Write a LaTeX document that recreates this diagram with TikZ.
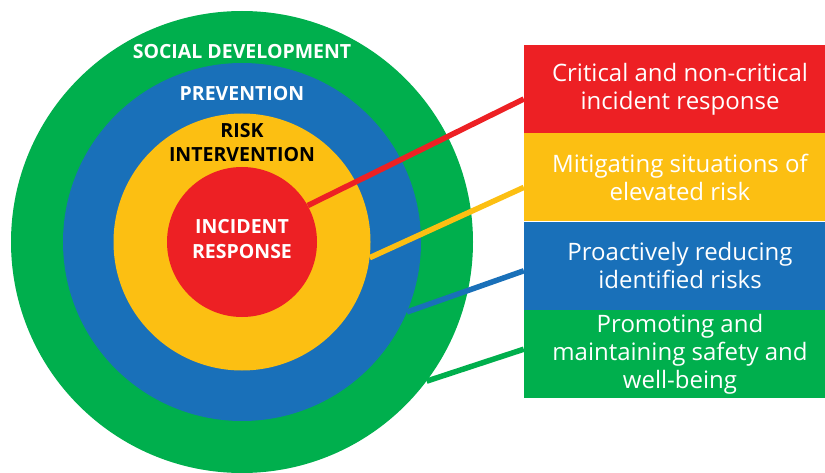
\documentclass[tikz,border=0pt]{standalone}
\usepackage{fontspec}
\setmainfont{Open Sans}
\usepackage{tikz}
\usetikzlibrary{positioning}
\definecolor{sred}{HTML}{ED2024}
\definecolor{syellow}{HTML}{FCBF12}
\definecolor{sblue}{HTML}{1970B9}
\definecolor{sgreen}{HTML}{00AF4D}
\begin{document}
\begin{tikzpicture}[x=1pt,y=1pt,
        ring/.style={circle,inner sep=0pt,minimum size=#1},
        ringtext/.style={anchor=base,align=center,font=\bfseries\fontsize{19.5}{24}\selectfont},
        levelbox/.style={rectangle,inner sep=0pt,minimum width=312pt,minimum height=88pt,
          text=white,align=center,font=\fontsize{24}{28}\selectfont},
        link/.style={line width=5.5pt}]
        \useasboundingbox (0,0) rectangle (825,472);
        % the four rings
        \node[ring=462pt,fill=sgreen] (social) at (242,230) {};
        \node[ring=358pt,fill=sblue] (prevent) at (242,230) {};
        \node[ring=257pt,fill=syellow] (risk) at (242,230) {};
        \node[ring=150pt,fill=sred] (incident) at (242,230) {};
        \node[ringtext,text=white] (incidentlab) at ([yshift=-16pt]incident.center) {INCIDENT\\RESPONSE};
        \node[ringtext,text=white] (sociallab) at ([yshift=-48pt]social.north) {SOCIAL DEVELOPMENT};
        \node[ringtext,text=white] (preventlab) at ([yshift=-38pt]prevent.north) {PREVENTION};
        \node[ringtext,text=black] (risklab) at ([yshift=-48.5pt]risk.north) {RISK\\INTERVENTION};
        % the boxes on the right
        \node[levelbox,fill=sred] (critical) at (680,383) {Critical and non-critical\\incident response};
        \node[levelbox,fill=syellow,below=0pt of critical] (mitigate) {Mitigating situations of\\elevated risk};
        \node[levelbox,fill=sblue,below=0pt of mitigate] (reduce) {Proactively reducing\\identified risks};
        \node[levelbox,fill=sgreen,below=0pt of reduce] (promote) {Promoting and\\maintaining safety and\\well-being};
        % connectors
        \draw[link,sred] (incident.29.6) -- ([yshift=-10pt]critical.west);
        \draw[link,syellow] (risk.-7) -- ([yshift=-10pt]mitigate.west);
        \draw[link,sblue] (prevent.-23.4) -- ([yshift=-5pt]reduce.west);
        \draw[link,sgreen] (social.-37) -- ([yshift=5pt]promote.west);
\end{tikzpicture}
\end{document}
